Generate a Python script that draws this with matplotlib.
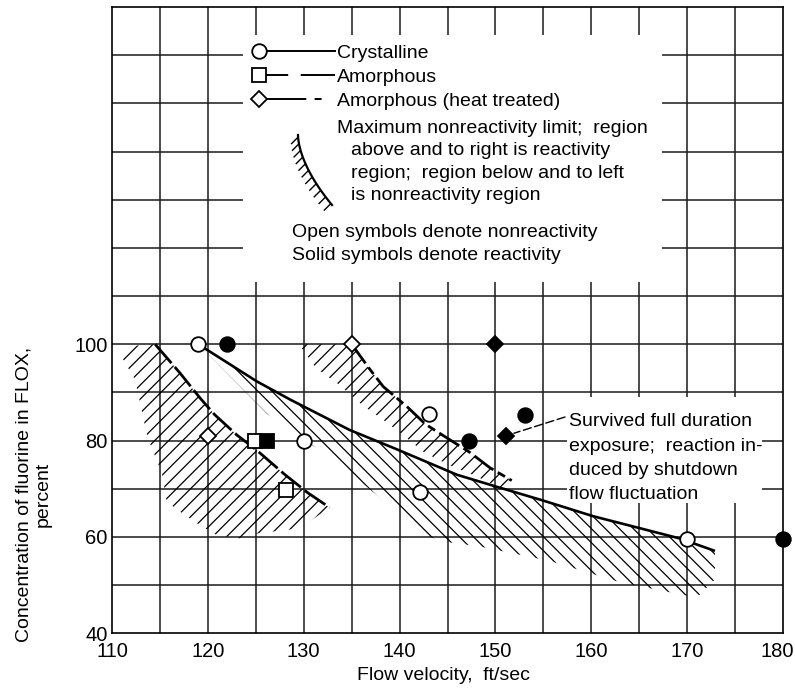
import matplotlib
matplotlib.use("Agg")
import numpy as np
import matplotlib.pyplot as plt
from matplotlib.patches import Polygon, Rectangle
from matplotlib.collections import LineCollection
from matplotlib.transforms import Affine2D

plt.rcParams['font.family'] = ['Liberation Sans', 'DejaVu Sans']
plt.rcParams['lines.scale_dashes'] = False

# ---------------- data ----------------
x_ticks = [110, 120, 130, 140, 150, 160, 170, 180]
y_ticks = [40, 60, 80, 100]

# crystalline specimens
cryst_open_x = [119, 130, 143.1, 142.1, 170]
cryst_open_y = [100, 80, 85.5, 69.4, 59.5]
cryst_solid_x = [122, 147.2, 153.1, 180]
cryst_solid_y = [100, 80, 85.4, 59.5]
# amorphous specimens
amor_open_x = [124.9, 128.1]
amor_open_y = [80, 69.8]
amor_solid_x = [126.2]
amor_solid_y = [80]
# amorphous, heat treated
heat_open_x = [135, 120]
heat_open_y = [100, 81]
heat_solid_x = [150, 151.1]
heat_solid_y = [100, 81]

# maximum nonreactivity limit curves and the inner edge of their hatched bands
cryst_curve_x = [119, 125.1, 128.6, 134.8, 139.7, 146.0, 150.5, 154.9, 160.2, 165.1, 169.2, 172.9]
cryst_curve_y = [100, 92.3, 88.5, 82.2, 78.2, 72.9, 70.2, 67.6, 64.3, 61.8, 59.7, 57.1]
cryst_band_x = [119, 126.2, 133.1, 138.0, 142.1, 144.7, 148.4, 155.7, 163.0, 171.0, 172.9]
cryst_band_y = [100, 85.5, 76.0, 68.1, 60.7, 59.0, 58.0, 55.0, 50.6, 47.4, 51.2]

amor_curve_x = [114.5, 117.1, 119.2, 120.7, 123.0, 125.1, 128.0, 130.4, 132.7]
amor_curve_y = [100, 94.0, 88.8, 85.4, 81.2, 78.0, 73.0, 69.2, 66.1]
amor_band_x = [111.6, 111.1, 111.7, 112.4, 112.9, 113.7, 115.2, 115.7, 116.9, 119.2,
               121.0, 123.4, 125.1, 129.6, 131.4]
amor_band_y = [99.6, 97.1, 95.0, 92.7, 88.1, 80.7, 73.3, 67.4, 65.5, 62.4,
               60.3, 59.7, 60.7, 61.8, 64.3]

heat_curve_x = [135.0, 136.9, 138.3, 140.8, 142.7, 145.3, 147.3, 149.4, 151.7]
heat_curve_y = [100, 94.8, 91.2, 87.0, 83.4, 80.1, 77.6, 74.4, 71.7]
heat_band_x = [129.5, 131.3, 133.5, 136.1, 138.3, 140.4, 142.6, 145.3, 147.9, 150.5]
heat_band_y = [100, 95.0, 91.9, 87.4, 84.3, 81.1, 77.5, 74.8, 72.7, 70.2]

legend_labels = ["Crystalline", "Amorphous", "Amorphous (heat treated)"]
note_lines = ["Maximum nonreactivity limit;  region",
              "above and to right is reactivity",
              "region;  region below and to left",
              "is nonreactivity region"]
symbol_lines = ["Open symbols denote nonreactivity",
                "Solid symbols denote reactivity"]
callout_lines = ["Survived full duration",
                 "exposure;  reaction in-",
                 "duced by shutdown",
                 "flow fluctuation"]

# ---------------- figure ----------------
W, H, DPI = 795, 688, 100
fig = plt.figure(figsize=(W / DPI, H / DPI), dpi=DPI)
L, R, T, B = 112, 783, 7, 633.3
ax = fig.add_axes([L / W, 1 - B / H, (R - L) / W, (B - T) / H])
XMIN, XMAX, YMIN, YMAX = 110, 180, 40, 170
sx = (R - L) / (XMAX - XMIN)
sy = (B - T) / (YMAX - YMIN)
px = Affine2D().scale(1, -1).translate(0, H)   # pixel coordinates from top-left

TXT = 14
INK = 'k'

# grid
grid_kw = dict(color='#1a1a1a', lw=1.1, zorder=1)
ax.vlines(np.arange(115, 180, 5), YMIN, YMAX, **grid_kw)
ax.hlines(np.arange(50, 170, 10), XMIN, XMAX, **grid_kw)

# white areas behind the key and the callout
ax.add_patch(Rectangle((243, 35), 419, 247, transform=px, facecolor='white',
                       edgecolor='none', zorder=2))
ax.add_patch(Rectangle((567, 397), 195, 106, transform=px, facecolor='white',
                       edgecolor='none', zorder=2))


def hatch_band(curve_x, curve_y, edge_x, edge_y, direction, spacing=14):
    verts = list(zip(curve_x, curve_y)) + list(zip(edge_x[::-1], edge_y[::-1]))
    poly = Polygon(verts, closed=True, fill=False, edgecolor='none')
    ax.add_patch(poly)
    xs = np.array([XMIN - 20, XMAX + 20], dtype=float)
    segs = []
    for c in np.arange(-3000, 3000, spacing):
        if direction == '/':
            ys = YMIN + (c + sx * (xs - XMIN)) / sy
        else:
            ys = YMIN + (c - sx * (xs - XMIN)) / sy
        segs.append(np.column_stack([xs, ys]))
    lc = LineCollection(segs, colors=INK, linewidths=0.9, zorder=3)
    ax.add_collection(lc, autolim=False)
    lc.set_clip_path(poly)


hatch_band(cryst_curve_x, cryst_curve_y, cryst_band_x, cryst_band_y, '\\')
hatch_band(amor_curve_x, amor_curve_y, amor_band_x, amor_band_y, '/')
hatch_band(heat_curve_x, heat_curve_y, heat_band_x, heat_band_y, '/')

# limit curves
ls_amor = (0, (18, 3.6))
ls_heat = (0, (17, 3.6, 6, 3.6))
ax.plot(cryst_curve_x, cryst_curve_y, color=INK, lw=1.9, zorder=4,
        solid_capstyle='butt')
ax.plot(amor_curve_x, amor_curve_y, color=INK, lw=2.0, ls=ls_amor, zorder=4)
ax.plot(heat_curve_x, heat_curve_y, color=INK, lw=2.0, ls=ls_heat, zorder=4)

# data symbols
mk = dict(ls='none', mec=INK, mew=1.3, zorder=5, clip_on=False)
ax.plot(cryst_open_x, cryst_open_y, marker='o', ms=10.5, mfc='white', **mk)
ax.plot(cryst_solid_x, cryst_solid_y, marker='o', ms=10.5, mfc=INK, **mk)
ax.plot(amor_open_x, amor_open_y, marker='s', ms=9.5, mfc='white', **mk)
ax.plot(amor_solid_x, amor_solid_y, marker='s', ms=9.5, mfc=INK, **mk)
ax.plot(heat_open_x, heat_open_y, marker='D', ms=8.5, mfc='white', **mk)
ax.plot(heat_solid_x, heat_solid_y, marker='D', ms=8.5, mfc=INK, **mk)

# key
key_y = [51, 75, 99]
key_markers = ['o', 's', 'D']
key_ms = [10.5, 9.5, 8.5]
key_ls = ['-', (0, (16, 9, 30)), (0, (29, 6, 5, 60))]
for yk, m, ms, lstyle, lab in zip(key_y, key_markers, key_ms, key_ls, legend_labels):
    ax.plot([266, 335], [yk, yk], transform=px, color=INK, lw=1.4, ls=lstyle,
            zorder=6, clip_on=False)
    ax.plot([259], [yk], transform=px, marker=m, ms=ms, mfc='white', mec=INK,
            mew=1.3, ls='none', zorder=6, clip_on=False)
    ax.text(337, yk + 7, lab, transform=px, fontsize=TXT, va='baseline',
            ha='left', zorder=6)

# hatched-limit key symbol
t = np.linspace(0, 1, 40)
arc_x = 298 + 34 * t ** 1.7
arc_y = 135 + 70 * t
ax.plot(arc_x, arc_y, transform=px, color=INK, lw=1.6, zorder=6, clip_on=False)
tk = np.linspace(0.03, 0.98, 11)
tick_x = 298 + 34 * tk ** 1.7
tick_y = 135 + 70 * tk
tick_segs = [[(a, b), (a - 7, b + 7)] for a, b in zip(tick_x, tick_y)]
ax.add_collection(LineCollection(tick_segs, colors=INK, linewidths=1.0,
                                 transform=px, zorder=6), autolim=False)

note_pos = [(337, 133), (351, 155), (351, 178), (351, 200)]
for (xx, yy), s in zip(note_pos, note_lines):
    ax.text(xx, yy, s, transform=px, fontsize=TXT, va='baseline', zorder=6)
sym_pos = [(292, 237), (292, 260)]
for (xx, yy), s in zip(sym_pos, symbol_lines):
    ax.text(xx, yy, s, transform=px, fontsize=TXT, va='baseline', zorder=6)

# callout for the heat-treated specimen
call_base = [426, 451, 475, 499]
for yy, s in zip(call_base, callout_lines):
    ax.text(569, yy, s, transform=px, fontsize=TXT, va='baseline', zorder=6)
ax.annotate('', xy=(heat_solid_x[1], heat_solid_y[1]), xycoords='data',
            xytext=(565, 417), textcoords=px,
            arrowprops=dict(arrowstyle='-', lw=1.0, linestyle=(0, (6, 2.5)),
                            shrinkA=0, shrinkB=6, color=INK), zorder=6)

# axes
ax.set_xlim(XMIN, XMAX)
ax.set_ylim(YMIN, YMAX)
ax.set_xticks(x_ticks)
ax.set_yticks(y_ticks)
ax.tick_params(length=0, labelsize=14.5)
ax.tick_params(axis='x', pad=6)
ax.tick_params(axis='y', pad=3)
for lbl in ax.get_xticklabels() + ax.get_yticklabels():
    lbl.set_family(['Liberation Sans Narrow', 'Liberation Sans', 'DejaVu Sans'])
    lbl.set_fontstretch('condensed')
last = ax.get_xticklabels()[-1]
last.set_transform(last.get_transform() + Affine2D().translate(-6, 0))
for sp in ax.spines.values():
    sp.set_linewidth(1.2)
    sp.set_color(INK)

fig.text(443, 675, "Flow velocity,  ft/sec", transform=px, fontsize=TXT,
         ha='center', va='center')
fig.text(33.5, 494, "Concentration of fluorine in FLOX,\npercent", transform=px,
         fontsize=TXT, rotation=90, ha='center', va='center',
         multialignment='center', linespacing=1.2)

fig.savefig("out.png", dpi=DPI, facecolor='white')
